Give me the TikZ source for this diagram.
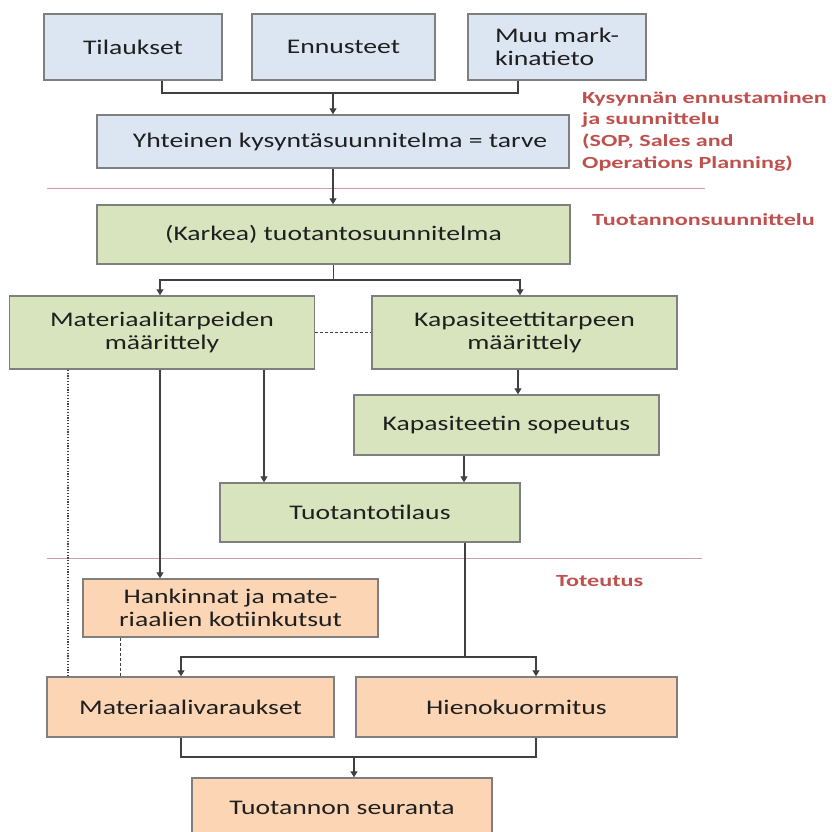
\documentclass[tikz,border=0pt]{standalone}
\usepackage{fontspec}
\setmainfont{Carlito}
\newfontfamily\boxfont[FakeStretch=1.33]{Carlito}
\newfontfamily\notefont[FakeStretch=1.42]{Carlito}
\usetikzlibrary{arrows.meta}

\definecolor{demand}{HTML}{DCE6F2}
\definecolor{plan}{HTML}{D7E4BD}
\definecolor{exec}{HTML}{FCD5B5}
\definecolor{edge}{HTML}{7F7F7F}
\definecolor{ink}{HTML}{1F1F1F}
\definecolor{phase}{HTML}{C0504D}
\definecolor{phaseline}{HTML}{C8A0A0}
\definecolor{wire}{HTML}{404040}

\tikzset{
  box/.style={draw=edge, line width=1.4pt, text=ink, align=center, inner sep=0pt,
    font=\boxfont\fontsize{20.8}{23.5}\selectfont},
  demandbox/.style={box, fill=demand},
  planbox/.style={box, fill=plan},
  execbox/.style={box, fill=exec},
  conn/.style={draw=wire, line width=1.1pt},
  arr/.style={conn, -{Triangle[width=7pt,length=6pt]}},
  dashlink/.style={draw=wire, line width=0.9pt, dash pattern=on 3pt off 2pt},
  dotlink/.style={draw=wire, line width=1.1pt, dash pattern=on 1.2pt off 1.6pt},
  note/.style={text=phase, align=left, inner sep=0pt,
    font=\notefont\bfseries\fontsize{17}{21.7}\selectfont},
  divider/.style={draw=phaseline, line width=1pt},
}

\begin{document}
\begin{tikzpicture}[x=1pt,y=-1pt]
\useasboundingbox (0,0) rectangle (832,832);
\clip (0,0) rectangle (832,832);

% demand planning
\node[demandbox, minimum width=178pt, minimum height=66pt] (til) at (133,47) {Tilaukset};
\node[demandbox, minimum width=183pt, minimum height=66pt] (enn) at (343.5,47) {Ennusteet};
\node[demandbox, minimum width=178pt, minimum height=66pt, align=left] (muu) at (557,47) {Muu mark-\\kinatieto};
\node[demandbox, minimum width=472pt, minimum height=53pt] (yht) at (333,141.5) {\hspace*{14pt}Yhteinen kysyntäsuunnitelma = tarve};

% production planning
\node[planbox, minimum width=473pt, minimum height=59pt] (kar) at (333.5,234.5) {(Karkea) tuotantosuunnitelma};
\node[planbox, minimum width=305pt, minimum height=73pt] (mat) at (162,332.5) {Materiaalitarpeiden\\määrittely};
\node[planbox, minimum width=305pt, minimum height=73pt] (kap) at (524.5,332.5) {Kapasiteettitarpeen\\määrittely};
\node[planbox, minimum width=305pt, minimum height=60pt] (sop) at (506.5,425) {Kapasiteetin sopeutus};
\node[planbox, minimum width=300pt, minimum height=59pt] (tti) at (370,512.5) {Tuotantotilaus};

% execution
\node[execbox, minimum width=295pt, minimum height=58pt] (han) at (230.5,608) {Hankinnat ja mate-\\riaalien kotiinkutsut};
\node[execbox, minimum width=287pt, minimum height=60pt] (mva) at (190.5,707) {Materiaalivaraukset};
\node[execbox, minimum width=321pt, minimum height=60pt] (hie) at (516.5,707) {Hienokuormitus};
\node[execbox, minimum width=300pt, minimum height=60pt] (seu) at (342,808) {Tuotannon seuranta};

% phase dividers and labels
\draw[divider] (47,188) -- (705,188);
\draw[divider] (47,558) -- (702,558);
\node[note, anchor=north west] (lbl1) at (582,91) {Kysynnän ennustaminen\\ja suunnittelu\\(SOP, Sales and\\Operations Planning)};
\node[note, anchor=west] (lbl2) at (592,220) {Tuotannonsuunnittelu};
\node[note, anchor=west] (lbl3) at (556,581) {Toteutus};

% connectors
\coordinate (j1) at (333,93);
\draw[conn] ([xshift=29pt]til.south) |- (j1) -| ([xshift=-39pt]muu.south);
\draw[arr] (j1) -- (j1 |- yht.north);
\draw[arr] (yht.south) -- (yht.south |- kar.north);

\coordinate (j2) at (333.5,280);
\draw[conn] (kar.south) -- (j2);
\draw[arr] (j2) -| ([xshift=-2pt]mat.north);
\draw[arr] (j2) -| ([xshift=-4.5pt]kap.north);
\draw[dashlink] (mat.east) -- (kap.west);

\draw[arr] ([xshift=-6.5pt]kap.south) coordinate (k1) -- (k1 |- sop.north);
\draw[arr] ([xshift=-42.5pt]sop.south) coordinate (s1) -- (s1 |- tti.north);
\draw[arr] ([xshift=102pt]mat.south) coordinate (m1) -- (m1 |- tti.north);
\draw[arr] ([xshift=-2pt]mat.south) coordinate (m2) -- (m2 |- han.north);
\draw[dotlink] ([xshift=-94pt]mat.south) coordinate (m3) -- (m3 |- mva.north);
\draw[dashlink] ([xshift=-110.5pt]han.south) coordinate (h1) -- (h1 |- mva.north);

\coordinate (j3) at (465,657);
\draw[conn] ([xshift=95pt]tti.south) -- (j3);
\draw[arr] (j3) -| ([xshift=-9.5pt]mva.north);
\draw[arr] (j3) -| ([xshift=19.5pt]hie.north);

\coordinate (j4) at (354,757);
\draw[conn] ([xshift=-9.5pt]mva.south) |- (j4) -| ([xshift=19.5pt]hie.south);
\draw[arr] (j4) -- (j4 |- seu.north);
\end{tikzpicture}
\end{document}
